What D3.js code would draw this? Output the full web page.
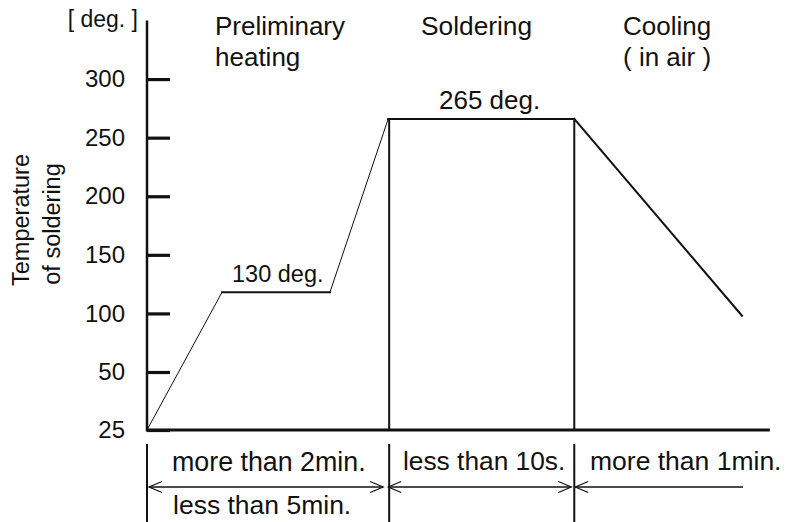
<!DOCTYPE html>
<html><head><meta charset="utf-8">
<script src="https://cdn.jsdelivr.net/npm/d3@7"></script>
<style>
html,body{margin:0;padding:0;background:#fff;}
text{font-family:"Liberation Sans",Arial,Helvetica,sans-serif;fill:#111;}
</style></head>
<body>
<svg id="c" width="797" height="522"></svg>
<script>
// ---- data ----
const yTicks = [25, 50, 100, 150, 200, 250, 300];
const profileTime = [0, 11.85, 28.9, 38.1, 67.5, 94];
const profileTemp = [25, 118, 118, 266, 266, 98];
const phaseTitles = [["Preliminary", "heating"], ["Soldering"], ["Cooling", "( in air )"]];
const durationTop = ["more than 2min.", "less than 10s.", "more than 1min."];
const durationBottom = ["less than 5min.", "", ""];
const plateauLabels = ["130 deg.", "265 deg."];
const yUnit = "[ deg. ]";
const yTitle = ["Temperature", "of soldering"];
const axisEndTime = 98.4;

// ---- scales ----
const svg = d3.select("#c");
const x = d3.scaleLinear().domain([0, 100]).range([147, 780]);
const y = d3.scaleLinear().domain([25, 50, 350]).range([430, 372, 20.5]);

const b1 = profileTime[3], b2 = profileTime[4];

// y axis ticks
const axis = d3.axisLeft(y).tickValues(yTicks).tickSizeInner(-23).tickSizeOuter(0).tickPadding(22);
const gA = svg.append("g").attr("transform", `translate(${x(0)},0)`).call(axis);
gA.select(".domain").remove();
gA.selectAll(".tick line").attr("stroke", "#111").attr("stroke-width", 3.2);
gA.selectAll(".tick text").style("font-size", "24px").attr("fill", "#111")
  .style("font-family", '"Liberation Sans",Arial,sans-serif');

// y axis line
svg.append("line").attr("x1", x(0)).attr("x2", x(0)).attr("y1", y(350)).attr("y2", y(25) + 1.5)
  .attr("stroke", "#111").attr("stroke-width", 2.5);
// baseline
svg.append("line").attr("x1", x(0)).attr("x2", x(axisEndTime)).attr("y1", y(25)).attr("y2", y(25))
  .attr("stroke", "#111").attr("stroke-width", 3.2);

// profile segments
const widths = [1, 2, 1, 2, 2];
for (let i = 0; i < profileTime.length - 1; i++) {
  svg.append("line")
    .attr("x1", x(profileTime[i])).attr("y1", y(profileTemp[i]))
    .attr("x2", x(profileTime[i + 1])).attr("y2", y(profileTemp[i + 1]))
    .attr("stroke", "#111").attr("stroke-width", widths[i]).attr("stroke-linecap", "square");
}
// phase boundary verticals
[b1, b2].forEach((b, i) => {
  svg.append("line").attr("x1", x(b) + (i === 0 ? 1 : 0)).attr("x2", x(b) + (i === 0 ? 1 : 0))
    .attr("y1", y(profileTemp[3])).attr("y2", y(25))
    .attr("stroke", "#111").attr("stroke-width", 2);
});
// lower verticals
[0, b1, b2].forEach((b, i) => {
  const xx = x(b) + (i === 1 ? 1 : 0);
  svg.append("line").attr("x1", xx).attr("x2", xx).attr("y1", 444).attr("y2", 522)
    .attr("stroke", "#111").attr("stroke-width", 2);
});

// arrows
const ay = 487;
function arrow(xa, xb, leftHead, rightHead) {
  svg.append("line").attr("x1", xa).attr("x2", xb).attr("y1", ay).attr("y2", ay)
    .attr("stroke", "#111").attr("stroke-width", 1.3);
  if (leftHead) svg.append("path").attr("d", `M${xa + 13},${ay - 5.5}L${xa},${ay}L${xa + 13},${ay + 5.5}`)
    .attr("fill", "none").attr("stroke", "#111").attr("stroke-width", 1.2);
  if (rightHead) svg.append("path").attr("d", `M${xb - 13},${ay - 5.5}L${xb},${ay}L${xb - 13},${ay + 5.5}`)
    .attr("fill", "none").attr("stroke", "#111").attr("stroke-width", 1.2);
}
arrow(x(0) + 2, x(b1) - 5, true, true);
arrow(x(b1) + 0, x(b2) - 3, true, true);
arrow(x(b2) + 1, x(profileTime[5]) + 1, true, false);

// texts
function txt(s, xx, yy, size, anchor) {
  return svg.append("text").attr("x", xx).attr("y", yy).attr("text-anchor", anchor || "start")
    .style("font-size", size + "px").text(s);
}
txt(yUnit, 138, 27, 23, "end");
txt(phaseTitles[0][0], 215, 35, 26);
txt(phaseTitles[0][1], 215, 66, 26);
txt(phaseTitles[1][0], 421, 35, 26.3);
txt(phaseTitles[2][0], 623, 35, 26);
txt(phaseTitles[2][1], 623, 66, 26);
txt(plateauLabels[1], 439, 109, 26);
txt(plateauLabels[0], 232, 282, 23.5);

txt(durationTop[0], 172, 471, 26.8);
txt(durationTop[1], 403, 470, 26.3);
txt(durationTop[2], 590, 470, 26.5);
txt(durationBottom[0], 173, 514, 26.5);

// y title
svg.append("text").attr("transform", "translate(29,220) rotate(-90)").attr("text-anchor", "middle")
  .style("font-size", "23.5px").text(yTitle[0]);
svg.append("text").attr("transform", "translate(60,224) rotate(-90)").attr("text-anchor", "middle")
  .style("font-size", "23.5px").text(yTitle[1]);
</script>
</body></html>
